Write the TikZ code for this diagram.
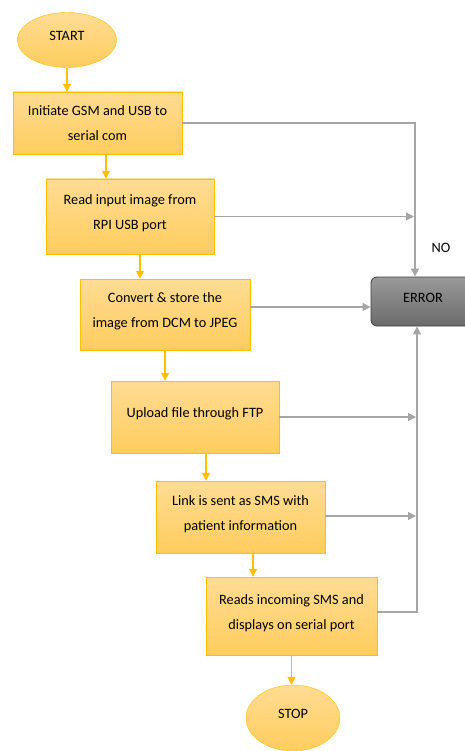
\documentclass[tikz,border=0pt]{standalone}
\usepackage{fontspec}
\setmainfont{Carlito}
\usetikzlibrary{shapes.geometric,arrows.meta}
\definecolor{boxedge}{HTML}{FFC000}
\definecolor{boxtop}{HTML}{FFDC94}
\definecolor{boxbot}{HTML}{FFCD5E}
\definecolor{lineg}{HTML}{A6A6A6}
\definecolor{errtop}{HTML}{9A9A9A}
\definecolor{errbot}{HTML}{6A6A6A}
\tikzstyle{every node}=[font=\fontsize{14.3}{25}\selectfont]
\tikzstyle{lifted}=[execute at end node={\rule[-8pt]{0pt}{0pt}}]
\tikzstyle{plainbox}=[draw=boxedge,top color=boxtop,bottom color=boxbot,align=center,inner sep=0pt]
\tikzstyle{stepbox}=[plainbox,lifted]
\tikzstyle{term}=[ellipse,draw=boxedge,top color=boxtop,bottom color=boxbot,inner sep=0pt,lifted]
\tikzstyle{flow}=[draw=boxedge,line width=1.5pt,-{Triangle[length=8pt,width=8pt]}]
\tikzstyle{fail}=[draw=lineg,line width=1.2pt]
\tikzstyle{failarrow}=[fail,-{Triangle[length=8pt,width=8pt]}]

\begin{document}
\begin{tikzpicture}[x=1pt,y=-1pt]
\useasboundingbox (0,0) rectangle (465,751);
\node[term,minimum width=99pt,minimum height=55pt] (start) at (67,40) {START};
\node[plainbox,minimum width=169pt,minimum height=62pt] (init) at (97.5,123) {Initiate GSM and USB to\\serial com};
\node[stepbox,minimum width=168pt,minimum height=75pt] (read) at (130,216.5) {Read input image from\\RPI USB port};
\node[stepbox,minimum width=170pt,minimum height=71pt] (convert) at (165,314.5) {Convert \& store the\\image from DCM to JPEG};
\node[stepbox,minimum width=168pt,minimum height=72pt] (upload) at (195,417) {Upload file through FTP};
\node[stepbox,minimum width=169pt,minimum height=72pt] (link) at (240.5,517) {Link is sent as SMS with\\patient information};
\node[stepbox,minimum width=171pt,minimum height=78pt] (reads) at (291.5,616) {Reads incoming SMS and\\displays on serial port};
\node[term,minimum width=94pt,minimum height=66pt] (stop) at (293,718) {STOP};
\node[draw=black!75,rounded corners=6pt,top color=errtop,bottom color=errbot,lifted,
      minimum width=104pt,minimum height=49pt,line width=0.8pt] (error) at (423,301.5) {ERROR};
\node (no) at (441,248) {NO};
\coordinate (upbus) at ([xshift=-8pt]error.north);
\coordinate (downbus) at ([xshift=-6pt]error.south);

\draw[flow] (start.south) -- (start.south |- init.north);
\draw[flow] ([xshift=8.5pt]init.south) -- ([xshift=8.5pt]init.south |- read.north);
\draw[flow] ([xshift=10pt]read.south) -- ([xshift=10pt]read.south |- convert.north);
\draw[flow] (convert.south) -- (convert.south |- upload.north);
\draw[flow] ([xshift=11pt]upload.south) -- ([xshift=11pt]upload.south |- link.north);
\draw[flow] ([xshift=12.5pt]link.south) -- ([xshift=12.5pt]link.south |- reads.north);
\draw[flow] (reads.south) -- (reads.south |- stop.north);

\draw[failarrow] (init.east) -| (upbus);
\draw[failarrow] (read.east) -- ([xshift=-1pt]read.east -| upbus);
\draw[failarrow] ([yshift=7.5pt]convert.east) -- ([yshift=7.5pt]convert.east -| error.west);
\draw[failarrow] (upload.east) -- ([xshift=-1pt]upload.east -| downbus);
\draw[failarrow] ([yshift=1pt]link.east) -- ([yshift=1pt,xshift=-1pt]link.east -| downbus);
\draw[failarrow] ([yshift=4pt]reads.east) -| (downbus);
\end{tikzpicture}
\end{document}
